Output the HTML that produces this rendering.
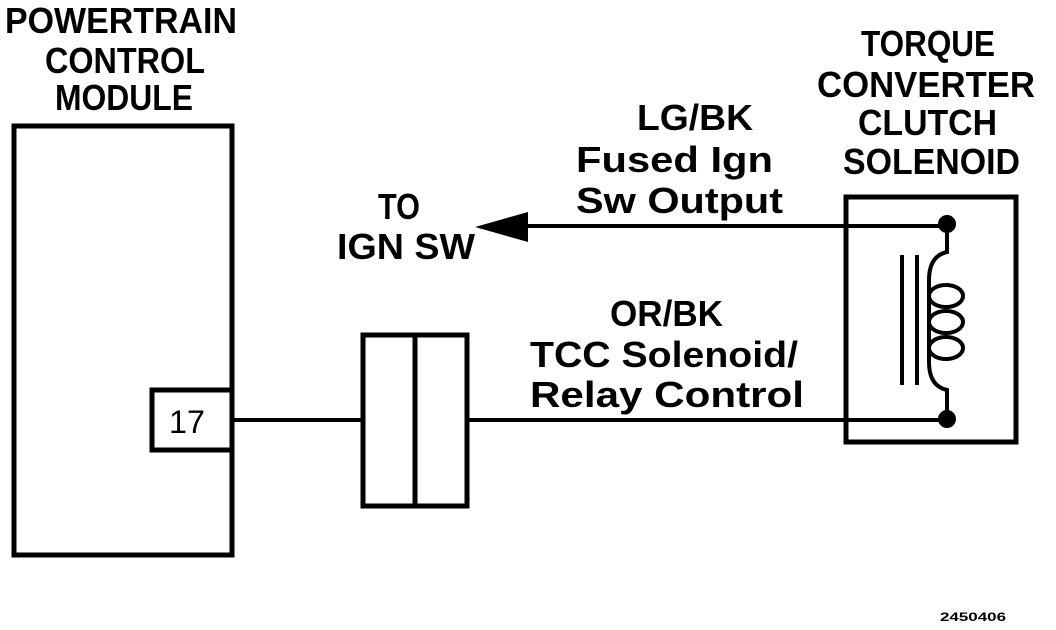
<!DOCTYPE html>
<html><head><meta charset="utf-8"><style>
html,body{margin:0;padding:0;background:#fff;width:1056px;height:630px;overflow:hidden}
text{font-family:"Liberation Sans",sans-serif;font-weight:bold;fill:#000}
</style></head><body>
<svg width="1056" height="630" viewBox="0 0 1056 630" xmlns="http://www.w3.org/2000/svg">
<g font-size="36">
<text x="5" y="33" textLength="232" lengthAdjust="spacingAndGlyphs">POWERTRAIN</text>
<text x="45" y="73" textLength="160" lengthAdjust="spacingAndGlyphs">CONTROL</text>
<text x="55" y="110" textLength="138" lengthAdjust="spacingAndGlyphs">MODULE</text>
<text x="861" y="56" textLength="134" lengthAdjust="spacingAndGlyphs">TORQUE</text>
<text x="817" y="97" textLength="218" lengthAdjust="spacingAndGlyphs">CONVERTER</text>
<text x="858" y="135" textLength="139" lengthAdjust="spacingAndGlyphs">CLUTCH</text>
<text x="843" y="174" textLength="177" lengthAdjust="spacingAndGlyphs">SOLENOID</text>
<text x="378" y="219" textLength="42" lengthAdjust="spacingAndGlyphs">TO</text>
<text x="337" y="259" textLength="138" lengthAdjust="spacingAndGlyphs">IGN SW</text>
<text x="637" y="130" textLength="116" lengthAdjust="spacingAndGlyphs">LG/BK</text>
<text x="576" y="172" textLength="197" lengthAdjust="spacingAndGlyphs">Fused Ign</text>
<text x="576" y="213" textLength="207" lengthAdjust="spacingAndGlyphs">Sw Output</text>
<text x="610" y="326" textLength="113" lengthAdjust="spacingAndGlyphs">OR/BK</text>
<text x="530" y="367" textLength="268" lengthAdjust="spacingAndGlyphs">TCC Solenoid/</text>
<text x="530" y="407" textLength="274" lengthAdjust="spacingAndGlyphs">Relay Control</text>
<text x="169" y="433" font-size="32" style="font-weight:normal" textLength="36" lengthAdjust="spacingAndGlyphs">17</text>
</g>
<text x="940" y="621" font-size="12" textLength="66" lengthAdjust="spacingAndGlyphs">2450406</text>
<g fill="none" stroke="#000" stroke-width="5">
<path d="M14 555 V126 H232 V555 Z"/>
<rect x="152" y="390" width="80" height="60"/>
<rect x="363" y="335" width="104" height="171"/>
<line x1="415" y1="335" x2="415" y2="506"/>
<rect x="846" y="197" width="170" height="245"/>
<line x1="232" y1="420" x2="363" y2="420" stroke-width="4"/>
<line x1="467" y1="420" x2="947" y2="420" stroke-width="4"/>
<line x1="520" y1="226" x2="947" y2="226" stroke-width="4"/>
<line x1="902" y1="255" x2="902" y2="385" stroke-width="4"/>
<line x1="917" y1="255" x2="917" y2="385" stroke-width="4"/>
<path d="M947 226 V252 Q929 256 929 280 V362 Q929 386 947 390 V420" stroke-width="4"/>
<ellipse cx="946" cy="296" rx="17" ry="11" stroke-width="4"/>
<ellipse cx="946" cy="322" rx="17" ry="11" stroke-width="4"/>
<ellipse cx="946" cy="348" rx="17" ry="11" stroke-width="4"/>
</g>
<polygon points="475,227 528,212 528,242" fill="#000"/>
<circle cx="947" cy="224" r="9" fill="#000"/>
<circle cx="947" cy="419" r="9" fill="#000"/>
</svg>
</body></html>
